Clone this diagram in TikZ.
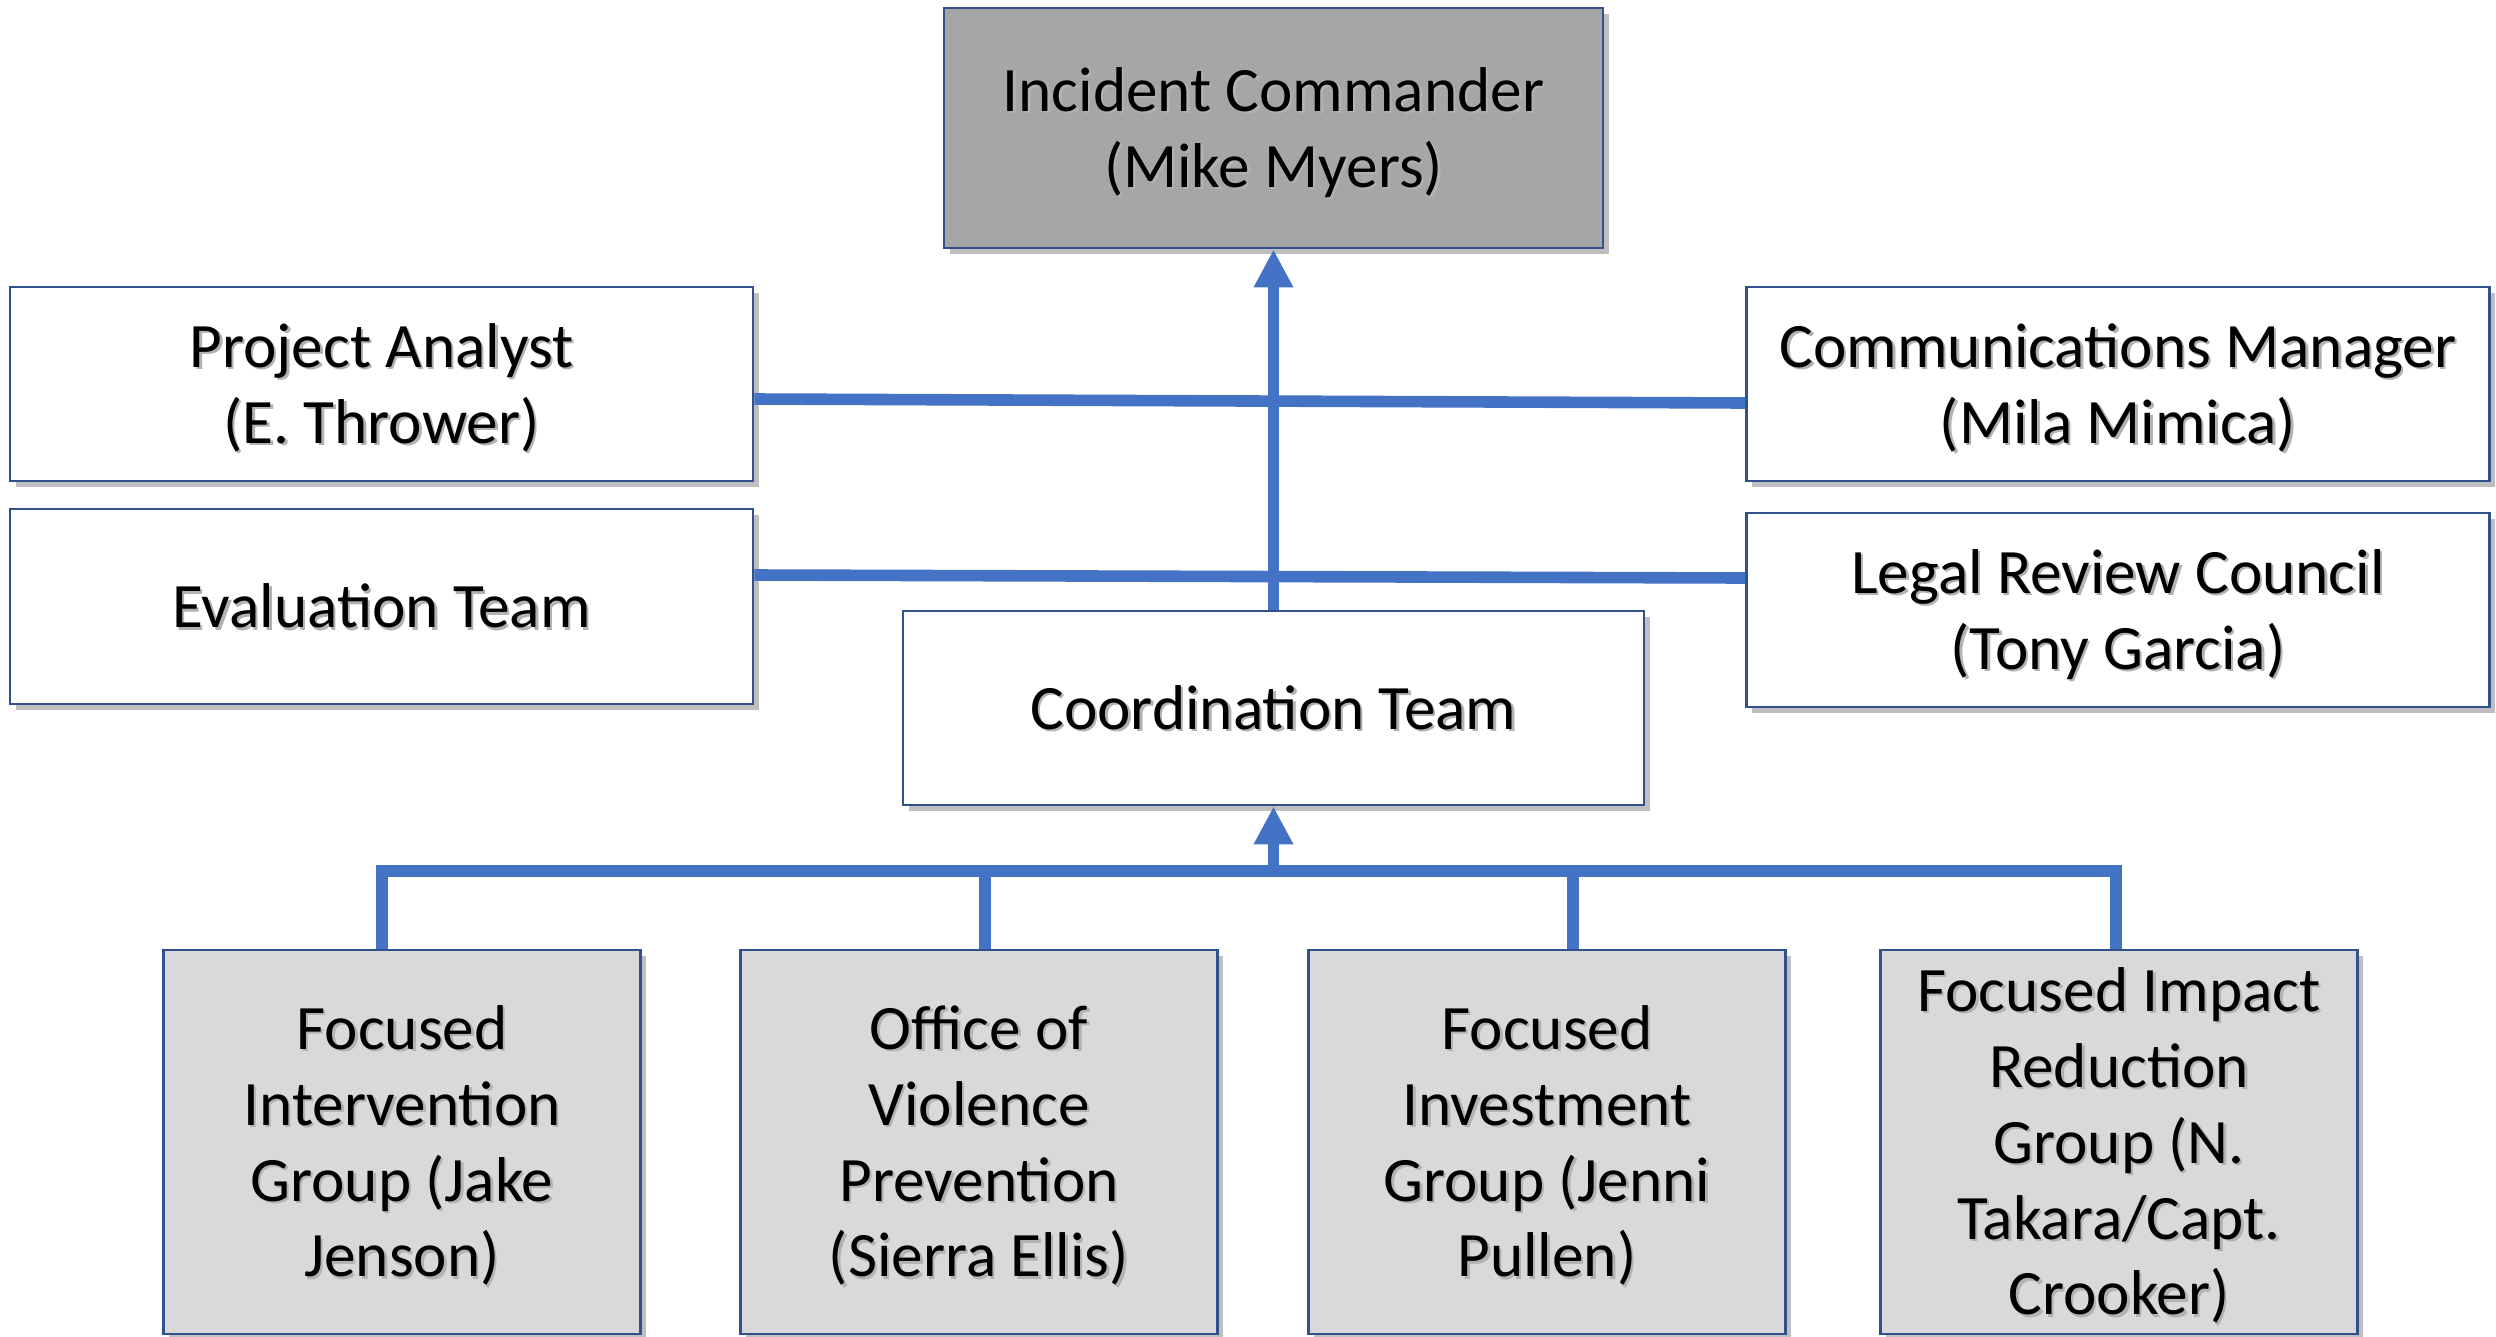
\documentclass[tikz,border=0pt]{standalone}
\usepackage{fontspec}
\setmainfont{Carlito}
\usetikzlibrary{arrows.meta,shadows}
\definecolor{linkblue}{HTML}{4472C4}
\definecolor{edgeblue}{HTML}{2F528F}
\definecolor{darkgrey}{HTML}{A6A6A6}
\definecolor{lightgrey}{HTML}{D9D9D9}
% line strut: symmetric line box so multi-line text centres like the original
\newcommand\lstrut{\rule[-4pt]{0pt}{20pt}}
% text with a soft shadow
\newcommand\shd[1]{\lstrut\makebox[0pt][l]{\hspace{0.7pt}\raisebox{-0.7pt}{\color{black!30}#1}}#1}
\begin{document}
\begin{tikzpicture}[
  box/.style={draw=edgeblue, line width=0.8pt, fill=white, rectangle, inner sep=0pt,
    align=center, font=\fontsize{18pt}{21.6pt}\selectfont,
    drop shadow={shadow xshift=1.6pt, shadow yshift=-1.6pt, opacity=0.25, fill=black}},
  topbox/.style={box, fill=darkgrey},
  lowbox/.style={box, fill=lightgrey, minimum width=4.77cm, minimum height=3.84cm},
  sidebox/.style={box, minimum width=7.43cm, minimum height=1.94cm},
  conn/.style={draw=linkblue, line width=3.3pt, line join=miter},
  tip/.style={-{Triangle[length=0.38cm, width=0.37cm]}}
]
\useasboundingbox (0,0) rectangle (24.96,-13.36);

\node[topbox, minimum width=6.59cm, minimum height=2.40cm] (ic) at (12.735,-1.28) {\shd{Incident Commander}\\\shd{(Mike Myers)}};
\node[sidebox] (pa) at (3.815,-3.84) {\shd{Project Analyst}\\\shd{(E. Thrower)}};
\node[sidebox] (cm) at (21.18,-3.84) {\shd{Communications Manager}\\\shd{(Mila Mimica)}};
\node[sidebox, minimum height=1.95cm] (et) at (3.815,-6.065) {\shd{Evaluation Team}};
\node[sidebox] (lr) at (21.18,-6.10) {\shd{Legal Review Council}\\\shd{(Tony Garcia)}};
\node[sidebox, minimum width=7.41cm] (ct) at (12.735,-7.08) {\shd{Coordination Team}};

\node[lowbox] (b1) at (4.02,-11.42) {\shd{Focused}\\\shd{Intervention}\\\shd{Group (Jake}\\\shd{Jenson)}};
\node[lowbox] (b2) at (9.79,-11.42) {\shd{Office of}\\\shd{Violence}\\\shd{Prevention}\\\shd{(Sierra Ellis)}};
\node[lowbox] (b3) at (15.47,-11.42) {\shd{Focused}\\\shd{Investment}\\\shd{Group (Jenni}\\\shd{Pullen)}};
\node[lowbox] (b4) at (21.19,-11.42) {\shd{Focused Impact}\\\shd{Reduction}\\\shd{Group (N.}\\\shd{Takara/Capt.}\\\shd{Crooker)}};

% upper connectors
\draw[conn] ([yshift=-0.15cm]pa.east) -- ([yshift=-0.19cm]cm.west);
\draw[conn] ([yshift=0.315cm]et.east) -- ([yshift=0.32cm]lr.west);
\draw[conn, tip] (ct.north) -- (ic.south);

% lower bus
\coordinate (busl) at (3.82,-8.71);
\coordinate (busr) at (21.16,-8.71);
\draw[conn] ([xshift=-0.20cm]b1.north) -- (busl) -- (busr) -- ([xshift=-0.03cm]b4.north);
\draw[conn] ([xshift=0.06cm]b2.north) -- ([xshift=0.06cm]b2.north |- busl);
\draw[conn] ([xshift=0.26cm]b3.north) -- ([xshift=0.26cm]b3.north |- busl);
\draw[conn, tip] (ct.south |- busl) -- (ct.south);
\end{tikzpicture}
\end{document}
